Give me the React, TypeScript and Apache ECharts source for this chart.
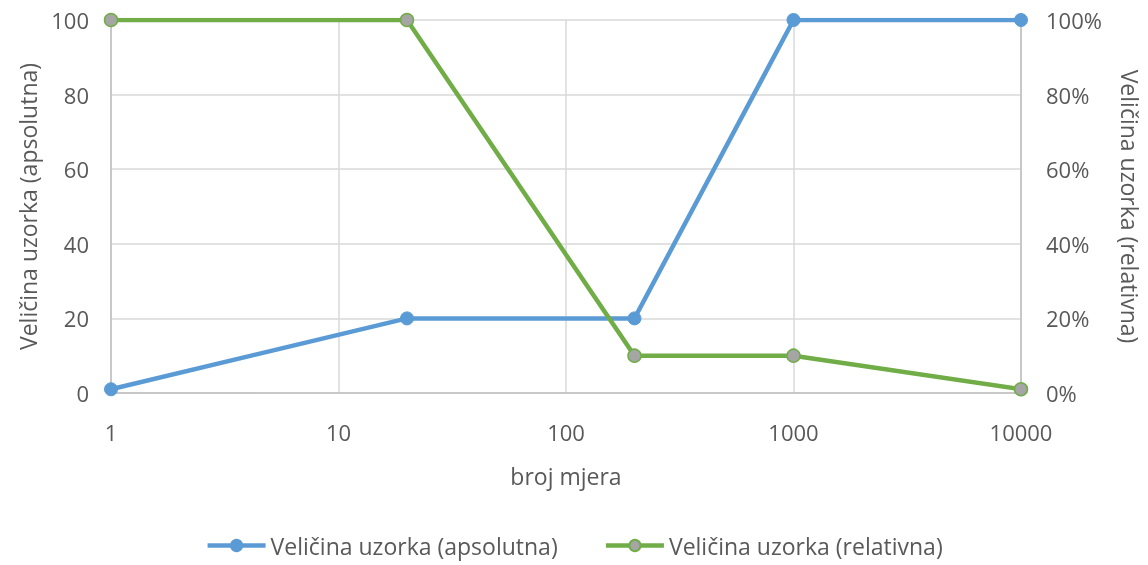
import React, { useEffect, useRef } from "react";
import * as echarts from "echarts";

const mjere = [1, 20, 200, 1000, 10000];
const apsolutna = [1, 20, 20, 100, 100];
const relativna = [1, 1, 0.1, 0.1, 0.01];
const xTicks = [1, 10, 100, 1000, 10000];

const FONT = "'Open Sans', 'Noto Sans', sans-serif";
const TXT = "#595959";

export default function App() {
  const ref = useRef<HTMLDivElement>(null);
  useEffect(() => {
    if (!ref.current) return;
    const chart = echarts.init(ref.current, undefined, { renderer: "svg" });
    chart.setOption({
      animation: false,
      textStyle: { fontFamily: FONT },
      grid: {
        left: 111,
        right: 127,
        top: 20,
        bottom: 172,
        containLabel: false,
        outerBoundsMode: "none",
      },
      legend: {
        top: 532,
        left: "center",
        padding: 2,
        itemGap: 46,
        itemWidth: 58,
        itemHeight: 14,
        lineStyle: { width: 4.5 },
        textStyle: { fontSize: 23, color: TXT, fontFamily: FONT },
        data: ["Veličina uzorka (apsolutna)", "Veličina uzorka (relativna)"],
      },
      xAxis: {
        type: "log",
        logBase: 10,
        min: 1,
        max: 10000,
        name: "broj mjera",
        nameLocation: "middle",
        nameGap: 71,
        nameTextStyle: { fontSize: 23, color: TXT },
        axisLine: { show: true, lineStyle: { color: "#BFBFBF", width: 1.5 } },
        axisTick: { show: false },
        axisLabel: {
          fontSize: 22,
          color: TXT,
          margin: 28,
          formatter: (v: number) => (xTicks.includes(Math.round(v)) ? String(Math.round(v)) : ""),
        },
        splitLine: { show: true, lineStyle: { color: "#D9D9D9", width: 1.5 } },
      },
      yAxis: [
        {
          type: "value",
          min: 0,
          max: 100,
          interval: 20,
          name: "Veličina uzorka (apsolutna)",
          nameLocation: "middle",
          nameRotate: 90,
          nameGap: 72,
          nameTextStyle: { fontSize: 23, color: TXT },
          axisLine: { show: true, lineStyle: { color: "#BFBFBF", width: 1.5 } },
          axisTick: { show: false },
          axisLabel: { fontSize: 22, color: TXT, margin: 22 },
          splitLine: { show: true, lineStyle: { color: "#D9D9D9", width: 1.5 } },
        },
        {
          type: "value",
          min: 0,
          max: 1,
          interval: 0.2,
          name: "Veličina uzorka (relativna)",
          nameLocation: "middle",
          nameRotate: -90,
          nameGap: 97,
          nameTextStyle: { fontSize: 23, color: TXT },
          axisLine: { show: true, lineStyle: { color: "#BFBFBF", width: 1.5 } },
          axisTick: { show: false },
          axisLabel: {
            fontSize: 22,
            color: TXT,
            margin: 25,
            formatter: (v: number) => Math.round(v * 100) + "%",
          },
          splitLine: { show: false },
        },
      ],
      series: [
        {
          name: "Veličina uzorka (apsolutna)",
          type: "line",
          yAxisIndex: 0,
          data: mjere.map((m, i) => [m, apsolutna[i]]),
          symbol: "circle",
          symbolSize: 13,
          lineStyle: { color: "#5B9BD5", width: 4.5 },
          itemStyle: { color: "#5B9BD5", borderColor: "#5B9BD5", borderWidth: 1 },
          z: 2,
        },
        {
          name: "Veličina uzorka (relativna)",
          type: "line",
          yAxisIndex: 1,
          data: mjere.map((m, i) => [m, relativna[i]]),
          symbol: "circle",
          symbolSize: 13,
          lineStyle: { color: "#70AD47", width: 4.5 },
          itemStyle: { color: "#A5A5A5", borderColor: "#70AD47", borderWidth: 1.5 },
          z: 3,
        },
      ],
    });
    return () => chart.dispose();
  }, []);
  return (
    <div
      ref={ref}
      style={{ position: "fixed", left: 0, top: 0, width: 1148, height: 565 }}
    />
  );
}
